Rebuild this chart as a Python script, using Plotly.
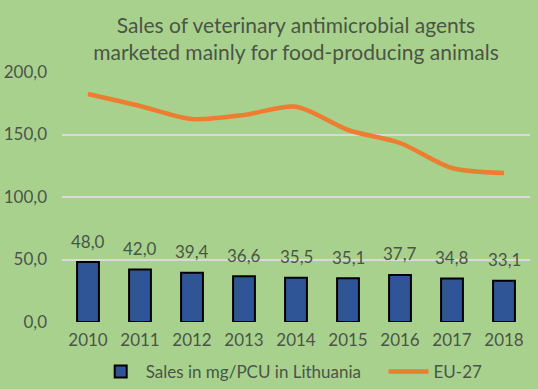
import plotly.graph_objects as go

years = ["2010", "2011", "2012", "2013", "2014", "2015", "2016", "2017", "2018"]
lithuania = [48.0, 42.0, 39.4, 36.6, 35.5, 35.1, 37.7, 34.8, 33.1]
eu27 = [182.4, 172.8, 162.4, 165.6, 172.2, 153.6, 143.2, 123.2, 119.2]
y_ticks = [0, 50, 100, 150, 200]

FONT = "Lato, Carlito, Calibri, sans-serif"
TXT = "#4A5546"

fig = go.Figure()
fig.add_trace(go.Bar(
    x=years, y=lithuania, name="Sales in mg/PCU in Lithuania",
    marker=dict(color="#2F5597", line=dict(color="#000000", width=2)),
    width=0.42, legend="legend",
))
fig.add_trace(go.Scatter(
    x=years, y=eu27, name="EU-27", mode="lines",
    line=dict(color="#ED7D31", width=4.5, shape="spline", smoothing=0.8),
    legend="legend2",
))
for i, v in enumerate(lithuania):
    fig.add_annotation(x=i, y=v, text=f"{v:.1f}".replace(".", ","),
                       showarrow=False, yanchor="middle", yshift=21,
                       font=dict(size=17, color=TXT, family=FONT))

leg_common = dict(orientation="h", y=-0.2, yanchor="middle", xanchor="left",
                  font=dict(size=17, color=TXT), bgcolor="rgba(0,0,0,0)", itemwidth=40)

fig.update_layout(
    width=538, height=389,
    paper_bgcolor="#A9D18E", plot_bgcolor="#A9D18E",
    margin=dict(l=62, r=8, t=72, b=67, autoexpand=False),
    separators=",.",
    font=dict(family=FONT, color=TXT, size=16),
    title=dict(text="Sales of veterinary antimicrobial agents<br>marketed mainly for food-producing animals",
               x=0.5, xanchor="center", xref="paper", y=0.915, yanchor="bottom",
               font=dict(size=21, color=TXT, family=FONT)),
    showlegend=True,
    legend=dict(x=0.072, **leg_common),
    legend2=dict(x=0.687, **leg_common),
    bargap=0.5,
)
fig.update_yaxes(range=[0, 200], tickvals=y_ticks, tickformat=".1f", automargin=False,
                 showgrid=True, gridcolor="#D9D9D9", gridwidth=1.5,
                 zeroline=False, showline=False, ticks="", ticklabelstandoff=14,
                 tickfont=dict(size=17, color=TXT))
fig.update_xaxes(type="category", range=[-0.5, len(years) - 0.5], automargin=False,
                 showgrid=False, showline=False, ticks="",
                 zeroline=False, ticklabelstandoff=6, tickfont=dict(size=17, color=TXT))

fig.write_html("out.html", config={"displayModeBar": False},
               post_script="document.body.style.margin='0';")
